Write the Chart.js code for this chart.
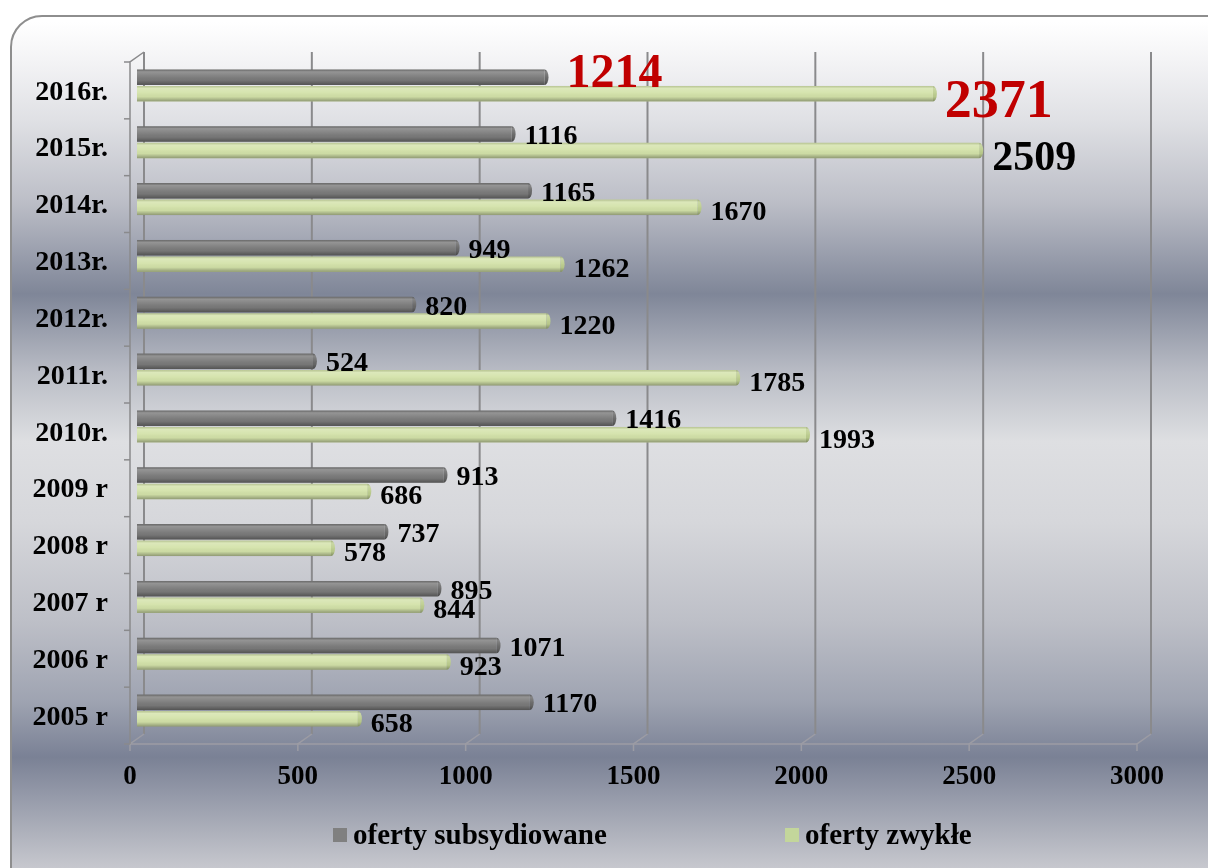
<!DOCTYPE html>
<html>
<head>
<meta charset="utf-8">
<script src="https://cdn.jsdelivr.net/npm/chart.js@4.4.0/dist/chart.umd.min.js"></script>
<style>
  html, body { margin: 0; padding: 0; width: 1208px; height: 868px; overflow: hidden; background: #fff; }
  #frame {
    position: absolute; left: 10px; top: 15px; width: 1240px; height: 900px;
    border: 2px solid #8e8e8e; border-radius: 32px; box-sizing: border-box;
    background: linear-gradient(to bottom,
      #ffffff 5px, #f3f3f5 45px, #dfe0e4 105px, #bcbec7 185px, #7f8698 277px,
      #b9bcc5 355px, #dedfe2 425px, #d6d7db 505px, #bdbfc7 605px, #9ea3b1 685px,
      #7a8195 740px, #c8c9cf 853px);
  }
  #chart { position: absolute; left: 0; top: 0; }
</style>
</head>
<body>
<div id="frame"></div>
<canvas id="chart" width="1208" height="868"></canvas>
<script>
// Categories, top to bottom as in the picture
const years = ['2016r.', '2015r.', '2014r.', '2013r.', '2012r.', '2011r.', '2010r.',
               '2009 r', '2008 r', '2007 r', '2006 r', '2005 r'];
const subsidised = [1214, 1116, 1165, 949, 820, 524, 1416, 913, 737, 895, 1071, 1170];
const regular    = [2371, 2509, 1670, 1262, 1220, 1785, 1993, 686, 578, 844, 923, 658];
const seriesNames = ['oferty subsydiowane', 'oferty zwykłe'];
const xTicks = [0, 500, 1000, 1500, 2000, 2500, 3000];

const FONT = '"Liberation Serif", "Times New Roman", serif';
const barColors = ['#7a7a7a', '#d3e2a9'];
const capColors = ['#686868', '#bccd8e'];
const legendColors = ['#808080', '#c3d69b'];

// Special label looks (dataset-index)
const labelStyles = {
    '0-0': { size: 48, color: '#c00000', dx: 22, dy: 10 },
    '1-0': { size: 54, color: '#c00000', dx: 12, dy: 23 },
    '1-1': { size: 42, dx: 13, dy: 20 }
};

const DX = 7, DY = 5; // half of the 3D depth offset

// 3D walls / floor / front axis
const frame3d = {
    id: 'frame3d',
    beforeDatasetsDraw(chart) {
        const { ctx, chartArea: a, scales: { x, y } } = chart;
        ctx.save();
        // back wall gridlines
        ctx.strokeStyle = '#8a8a8c';
        ctx.lineWidth = 2;
        xTicks.forEach(v => {
            const px = x.getPixelForValue(v) + DX;
            ctx.beginPath();
            ctx.moveTo(px, a.top - DY);
            ctx.lineTo(px, a.bottom - DY);
            ctx.stroke();
        });
        // floor
        ctx.strokeStyle = '#9c9ca4';
        ctx.lineWidth = 1.5;
        ctx.beginPath();
        ctx.moveTo(x.getPixelForValue(0) - DX, a.bottom + DY);
        ctx.lineTo(x.getPixelForValue(3000) - DX, a.bottom + DY);
        ctx.stroke();
        xTicks.forEach(v => {
            const px = x.getPixelForValue(v);
            ctx.beginPath();
            ctx.moveTo(px + DX, a.bottom - DY);
            ctx.lineTo(px - DX, a.bottom + DY);
            ctx.lineTo(px - DX, a.bottom + DY + 7);
            ctx.stroke();
        });
        // front left axis with category ticks
        ctx.strokeStyle = '#8a8a8c';
        const fx = a.left - DX;
        ctx.beginPath();
        ctx.moveTo(a.left + DX, a.top - DY);
        ctx.lineTo(fx, a.top + DY);
        ctx.lineTo(fx, a.bottom + DY);
        ctx.stroke();
        for (let i = 0; i <= years.length; i++) {
            const py = y.getPixelForValue(i - 0.5) + DY;
            ctx.beginPath();
            ctx.moveTo(fx - 6, py);
            ctx.lineTo(fx, py);
            ctx.stroke();
        }
        ctx.restore();
    }
};

// cylinder shading on bars
const cylinder = {
    id: 'cylinder',
    afterDatasetsDraw(chart) {
        const ctx = chart.ctx;
        ctx.save();
        chart.data.datasets.forEach((ds, di) => {
            chart.getDatasetMeta(di).data.forEach(bar => {
                const { x, y, base, height } = bar.getProps(['x', 'y', 'base', 'height'], true);
                const top = y - height / 2;
                const g = ctx.createLinearGradient(0, top, 0, top + height);
                g.addColorStop(0, 'rgba(0,0,0,0.12)');
                g.addColorStop(0.15, 'rgba(255,255,255,0.2)');
                g.addColorStop(0.45, 'rgba(255,255,255,0.06)');
                g.addColorStop(0.7, 'rgba(0,0,0,0.03)');
                g.addColorStop(1, 'rgba(0,0,0,0.32)');
                // end cap
                ctx.beginPath();
                ctx.ellipse(x, y, 4, height / 2, 0, -Math.PI / 2, Math.PI / 2);
                ctx.closePath();
                ctx.fillStyle = capColors[di];
                ctx.fill();
                ctx.fillStyle = g;
                ctx.fill();
                ctx.fillRect(base, top, x - base, height);
            });
        });
        ctx.restore();
    }
};

// value labels next to bar ends
const valueLabels = {
    id: 'valueLabels',
    afterDatasetsDraw(chart) {
        const ctx = chart.ctx;
        ctx.save();
        ctx.textAlign = 'left';
        ctx.textBaseline = 'alphabetic';
        chart.data.datasets.forEach((ds, di) => {
            chart.getDatasetMeta(di).data.forEach((bar, i) => {
                const s = Object.assign({ size: 28, color: '#000', dx: 13, dy: di === 0 ? 10 : 13 },
                    labelStyles[di + '-' + i] || {});
                ctx.font = 'bold ' + s.size + 'px ' + FONT;
                ctx.fillStyle = s.color;
                ctx.fillText(String(ds.data[i]), bar.x + s.dx, bar.y + s.dy);
            });
        });
        ctx.restore();
    }
};

// legend at the bottom
const bottomLegend = {
    id: 'bottomLegend',
    afterDraw(chart) {
        const ctx = chart.ctx;
        const xs = [333, 785];
        ctx.save();
        ctx.font = 'bold 29px ' + FONT;
        ctx.textBaseline = 'alphabetic';
        chart.data.datasets.forEach((ds, di) => {
            ctx.fillStyle = legendColors[di];
            ctx.fillRect(xs[di], 828, 14, 14);
            ctx.fillStyle = '#000';
            ctx.fillText(ds.label, xs[di] + 20, 844);
        });
        ctx.restore();
    }
};

new Chart(document.getElementById('chart').getContext('2d'), {
    type: 'bar',
    data: {
        labels: years,
        datasets: [
            { label: seriesNames[0], data: subsidised, backgroundColor: barColors[0] },
            { label: seriesNames[1], data: regular, backgroundColor: barColors[1] }
        ]
    },
    options: {
        indexAxis: 'y',
        responsive: false,
        animation: false,
        categoryPercentage: 0.58,
        barPercentage: 0.94,
        layout: { padding: { top: 57, right: 64, bottom: 69, left: 0 } },
        plugins: { legend: { display: false }, tooltip: { enabled: false } },
        scales: {
            x: {
                min: 0, max: 3000,
                grid: { display: false }, border: { display: false },
                ticks: { stepSize: 500, color: '#000', labelOffset: -7, padding: 14,
                         callback: v => String(v),
                         font: { family: FONT, size: 27, weight: 'bold' } },
                afterFit(scale) { scale.height = 60; }
            },
            y: {
                grid: { display: false }, border: { display: false },
                ticks: { color: '#000', labelOffset: 7, padding: 21,
                         font: { family: FONT, size: 28, weight: 'bold' } },
                afterFit(scale) { scale.width = 137; }
            }
        }
    },
    plugins: [frame3d, cylinder, valueLabels, bottomLegend]
});
</script>
</body>
</html>
